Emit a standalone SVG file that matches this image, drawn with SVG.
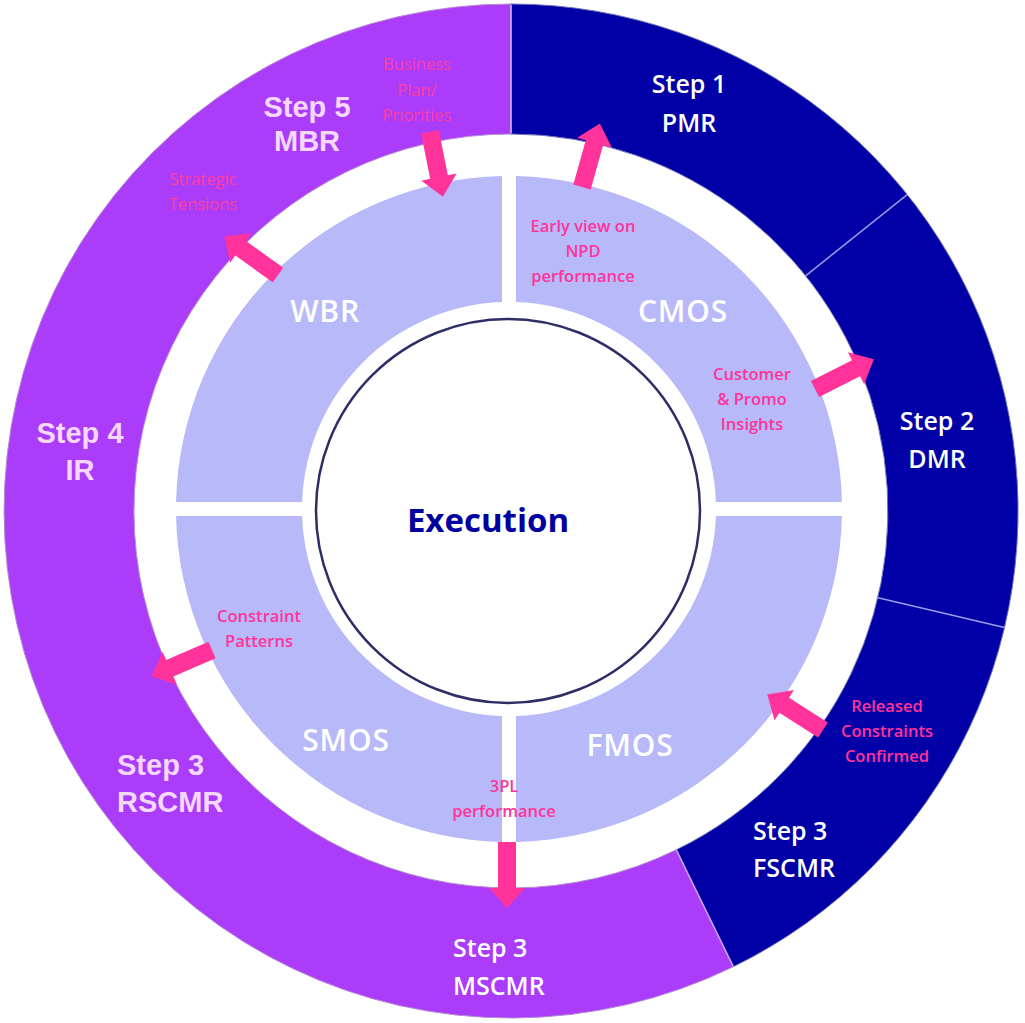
<svg xmlns="http://www.w3.org/2000/svg" width="1025" height="1023" viewBox="0 0 1025 1023">
<defs>
<style>
.step{font-family:"Open Sans","Liberation Sans",sans-serif;font-weight:600;font-size:25px;fill:#ffffff;text-anchor:middle}
.stepL{font-family:"Open Sans","Liberation Sans",sans-serif;font-weight:600;font-size:25px;fill:#ffffff}
.stepP{font-family:"Liberation Sans",Arial,sans-serif;font-weight:700;font-size:29px;fill:#f6d8ff;text-anchor:middle}
.quad{font-family:"Open Sans","Liberation Sans",sans-serif;font-weight:600;font-size:30px;letter-spacing:0.8px;fill:#ffffff;text-anchor:middle}
.note{font-family:"Open Sans","Liberation Sans",sans-serif;font-weight:600;font-size:16.5px;fill:#ff3399;text-anchor:middle}
.noteP{font-family:"Open Sans","Liberation Sans",sans-serif;font-weight:500;font-size:16.5px;fill:#ff3d9e;text-anchor:middle}
.lav{fill:#b8b9f8}
.div{stroke:#9c9cec;stroke-width:1.5}
.arrow{fill:#ff3399}
</style>
<path id="arr" d="M0,-9 L46,-9 L46,-18 L66,0 L46,18 L46,9 L0,9 Z"/>
</defs>
<rect width="1025" height="1023" fill="#ffffff"/>

<g id="outer-ring">
<path id="seg-purple" d="M733.3,966.7 A507,507 0 1 1 511,4 L511,134 A377,377 0 1 0 676.3,849.8 Z" fill="#aa3cfa" stroke="#b48ad0" stroke-width="1"/>
<path id="seg-blue" d="M511,4 A507,507 0 0 1 733.3,966.7 L676.3,849.8 A377,377 0 0 0 511,134 Z" fill="#0000a6" stroke="#6f6fb8" stroke-width="1"/>
<line class="div" x1="511" y1="5" x2="511" y2="133" style="stroke:#d9b0ff"/>
<line class="div" x1="733.3" y1="966.7" x2="676.3" y2="849.8" style="stroke:#c9a0f0"/>
<line class="div" x1="907.2" y1="194.7" x2="805.6" y2="275.8"/>
<line class="div" x1="1004.4" y1="627.6" x2="877.9" y2="597.7"/>
</g>

<g id="step1-pmr"><text class="step" x="689" y="93">Step 1</text><text class="step" x="689" y="132">PMR</text></g>
<g id="step2-dmr"><text class="step" x="937" y="430">Step 2</text><text class="step" x="937" y="468">DMR</text></g>
<g id="step3-fscmr"><text class="stepL" x="753" y="840">Step 3</text><text class="stepL" x="753" y="877">FSCMR</text></g>
<g id="step3-mscmr"><text class="stepL" x="453" y="957">Step 3</text><text class="stepL" x="453" y="995">MSCMR</text></g>
<g id="step3-rscmr"><text class="stepP" x="117" y="775" style="text-anchor:start">Step 3</text><text class="stepP" x="117" y="812" style="text-anchor:start">RSCMR</text></g>
<g id="step4-ir"><text class="stepP" x="80" y="443">Step 4</text><text class="stepP" x="80" y="480">IR</text></g>
<g id="step5-mbr"><text class="stepP" x="307" y="117">Step 5</text><text class="stepP" x="307" y="151">MBR</text></g>

<g id="wbr">
<path class="lav" d="M502,176.07 A333,333 0 0 0 176.07,502 L302.12,502 A207,207 0 0 1 502,302.12 Z"/>
<text class="quad" x="325" y="322">WBR</text>
</g>
<g id="cmos">
<path class="lav" d="M516,176.07 A333,333 0 0 1 841.93,502 L715.88,502 A207,207 0 0 0 516,302.12 Z"/>
<text class="quad" x="683" y="322">CMOS</text>
</g>
<g id="fmos">
<path class="lav" d="M841.93,516 A333,333 0 0 1 516,841.93 L516,715.88 A207,207 0 0 0 715.88,516 Z"/>
<text class="quad" x="630" y="756">FMOS</text>
</g>
<g id="smos">
<path class="lav" d="M502,841.93 A333,333 0 0 1 176.07,516 L302.12,516 A207,207 0 0 0 502,715.88 Z"/>
<text class="quad" x="346" y="751">SMOS</text>
</g>

<g id="execution">
<circle cx="508" cy="511" r="192" fill="#ffffff" stroke="#2e2e66" stroke-width="2.5"/>
<text x="488" y="532" text-anchor="middle" font-family="'Open Sans','Liberation Sans',sans-serif" font-weight="700" font-size="33" fill="#0000a0">Execution</text>
</g>

<g id="connectors">
<use href="#arr" class="arrow" transform="translate(430,132) rotate(78.7)"/>
<use href="#arr" class="arrow" transform="translate(278,275) rotate(215.6)"/>
<use href="#arr" class="arrow" transform="translate(582,187) rotate(-74.3)"/>
<use href="#arr" class="arrow" transform="translate(815,389) rotate(-26.9)"/>
<use href="#arr" class="arrow" transform="translate(823,730) rotate(212.5)"/>
<use href="#arr" class="arrow" transform="translate(212,650) rotate(156.5)"/>
<use href="#arr" class="arrow" transform="translate(507,842) rotate(90)"/>
</g>

<g id="labels">
<text class="noteP" x="417" y="70">Business</text>
<text class="noteP" x="417" y="96">Plan/</text>
<text class="noteP" x="417" y="121">Priorities</text>
<text class="noteP" x="203" y="185">Strategic</text>
<text class="noteP" x="203" y="210">Tensions</text>
<text class="note" x="583" y="232">Early view on</text>
<text class="note" x="583" y="257">NPD</text>
<text class="note" x="583" y="282">performance</text>
<text class="note" x="752" y="380">Customer</text>
<text class="note" x="752" y="405">&amp; Promo</text>
<text class="note" x="752" y="430">Insights</text>
<text class="note" x="887" y="712">Released</text>
<text class="note" x="887" y="737">Constraints</text>
<text class="note" x="887" y="762">Confirmed</text>
<text class="note" x="259" y="622">Constraint</text>
<text class="note" x="259" y="647">Patterns</text>
<text class="note" x="504" y="792">3PL</text>
<text class="note" x="504" y="817">performance</text>
</g>
</svg>
